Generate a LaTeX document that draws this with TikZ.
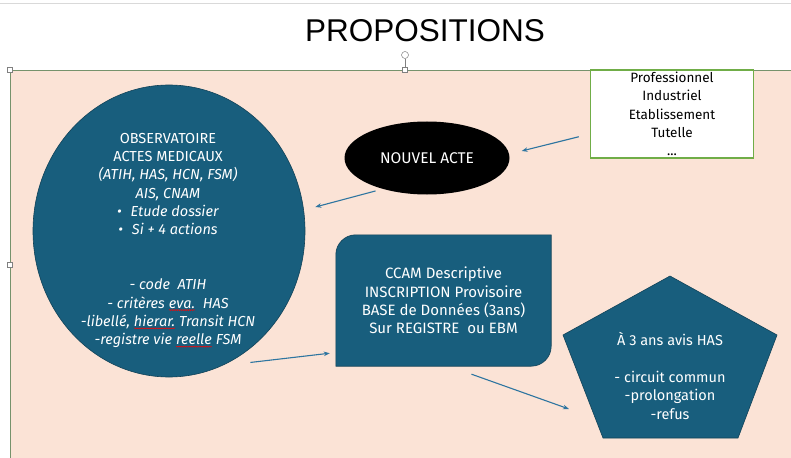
\documentclass[tikz,border=0pt]{standalone}
\usepackage{fontspec}
\setmainfont{Fira Sans}
\newfontfamily\titelfont{Liberation Sans}
\usetikzlibrary{calc,arrows.meta,shapes.geometric,decorations.pathmorphing}

\definecolor{rosa}{RGB}{251,227,214}
\definecolor{petrol}{RGB}{24,94,125}
\definecolor{pfeilblau}{RGB}{46,117,160}
\definecolor{gruenrahmen}{RGB}{112,173,71}
\definecolor{kante}{RGB}{118,146,108}

% rote Wellenlinie (Rechtschreibung)
\newcommand\rotwelle[1]{\tikz[baseline=(welle.base)]{\node[inner sep=0pt,outer sep=0pt] (welle) {#1};
    \draw[red,line width=0.5pt,decorate,decoration={snake,amplitude=0.5pt,segment length=2.2pt}]
        ([yshift=-2pt]welle.base west) -- ([yshift=-2pt]welle.base east);}}

\begin{document}
\begin{tikzpicture}[x=1pt,y=-1pt,
        font=\fontsize{14.5}{18.3}\selectfont,
        >={Stealth[length=6pt,width=4.5pt]}, % Voreinstellung fuer Pfeilspitzen
        verbindung/.style={->,draw=pfeilblau,line width=1.1pt},
        form/.style={fill=petrol,draw=petrol!70!black,line width=0.6pt},
        weiss/.style={text=white,align=center},
        griff/.style={draw=gray,fill=white,line width=0.5pt,minimum size=5pt,inner sep=0pt}
        ]
            \clip (0,0) rectangle (791,457);

            % Hintergrund
            \draw[gray!30] (0,3) -- (791,3);
            \fill[rosa] (10,70) rectangle (800,470);
            \draw[kante,line width=0.8pt] (10,470) -- (10,70) -- (800,70);

            % Titel
            \node[font=\titelfont\fontsize{31.5}{31.5}\selectfont] (TITEL) at (425,30.5) {PROPOSITIONS};

            % Formen
            \node[ellipse, form, minimum width=272, minimum height=292, inner sep=0pt] (OBS) at (169,231) {};
            \node[weiss] (OBS-t) at (168,240.5) {OBSERVATOIRE\\ACTES MEDICAUX\\
                \textit{(ATIH, HAS, HCN, FSM)}\\\textit{AIS, CNAM}\\
                \textit{\textbullet\hspace{9pt}Etude dossier}\\\textit{\textbullet\hspace{9pt}Si + 4 actions}\\[36.6pt]
                \textit{- code\ \ ATIH}\\
                \textit{- crit\`eres \rotwelle{eva.}\ \ HAS}\\
                \textit{-libell\'e, \rotwelle{hierar.} Transit HCN}\\
                \textit{-registre vie \rotwelle{reelle} FSM}};

            \node[ellipse, fill=black, text=white, minimum width=165, minimum height=73, inner sep=0pt,
                  font=\fontsize{15.5}{18.3}\selectfont] (NA) at (427,158) {NOUVEL ACTE};

            \node[draw=gruenrahmen, fill=white, line width=1.5pt, minimum width=163, minimum height=88, inner sep=0pt, align=center,
                  font=\fontsize{13.5}{18.3}\selectfont] (PROF) at (672,114)
                {Professionnel\\Industriel\\Etablissement\\Tutelle\\...};

            \node[minimum width=215, minimum height=131, inner sep=0pt] (CCAM) at (443.5,300.5) {};
            \path[form] (CCAM.south west) [rounded corners=20pt] -- (CCAM.north west) [sharp corners]
                        -- (CCAM.north east) [rounded corners=20pt] -- (CCAM.south east) [sharp corners] -- cycle;
            \node[weiss, font=\fontsize{15}{18.3}\selectfont] (CCAM-t) at (CCAM.center)
                {CCAM Descriptive\\INSCRIPTION Provisoire\\BASE de Donn\'ees (3ans)\\Sur REGISTRE\ \ ou EBM};

            \coordinate (P-oben) at (670,276);
            \coordinate (P-links) at (563,335);
            \coordinate (P-rechts) at (777,335);
            \coordinate (P-ul) at (603,438);
            \coordinate (P-ur) at (738,438);
            \path[form] (P-oben) -- (P-rechts) -- (P-ur) -- (P-ul) -- (P-links) -- cycle;
            \node[weiss] (AVIS) at (670,376) {\`A 3 ans avis HAS\\[18.3pt]- circuit commun\\-prolongation\\-refus};

            % Pfeile
            \draw[verbindung] ($(PROF.south west)+(-11,-22)$) -- ($(NA.east)+(12,-7)$);
            \draw[verbindung] ($(NA.south west)+(7,7)$) -- ($(OBS.east)+(10,-24)$);
            \draw[verbindung] ($(OBS.south east)+(-15,28)$) -- ($(CCAM.south west)+(-6,-13)$);
            \draw[verbindung] ($(CCAM.south)+(28,8)$) -- ($(P-links)+(6,74)$);

            % Anfasser
            \node[griff] (H1) at (10,70) {};
            \node[griff] (H2) at (405,70) {};
            \node[griff] (H3) at (10,265) {};
            \node[circle, draw=gray, fill=white, line width=0.5pt, minimum size=7pt, inner sep=0pt] (ROT) at (405,55) {};
            \draw[gray,line width=0.5pt] (ROT) -- (H2);

        \end{tikzpicture}
\end{document}
